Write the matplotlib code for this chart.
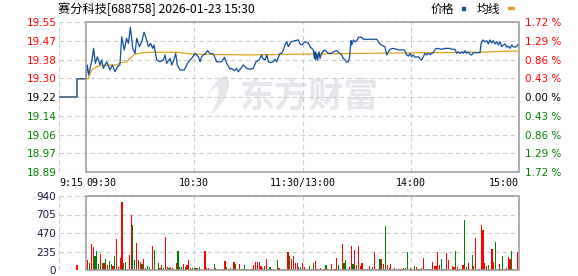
import matplotlib
matplotlib.use("Agg")
import matplotlib.pyplot as plt
from matplotlib.patches import Rectangle, Ellipse
import numpy as np

# ---------------- data ----------------
title = "赛分科技[688758] 2026-01-23 15:30"
prev_close = 19.22
price_ticks = ["18.89", "18.97", "19.06", "19.14", "19.22", "19.30", "19.38", "19.47", "19.55"]
pct_ticks = ["1.72 %", "1.29 %", "0.86 %", "0.43 %", "0.00 %", "0.43 %", "0.86 %", "1.29 %", "1.72 %"]
vol_ticks = [0, 235, 470, 705, 940]
time_ticks = [-15, 0, 60, 120, 180, 240]
time_labels = ["9:15", "09:30", "10:30", "11:30/13:00", "14:00", "15:00"]

# minutes relative to 09:30 (pre-market negative), price
price_t = [-15, -5, -5, 0, 0.7, 1.5, 3.3, 4.2, 5.2, 6.3, 7.8, 8.7, 9.6, 11.5, 13.3, 14.6, 16.1, 17.4,
           18.8, 19.8, 21.2, 22.5, 23.5, 24.6, 25.9, 27.2, 28.1, 29.6, 30.9, 32.2, 33.1, 34.6, 35.8,
           37.0, 37.7, 39.2, 41.0, 42.9, 43.8, 44.7, 46.6, 47.5, 48.4, 49.7, 50.6, 52.1, 54.5, 56.7,
           58.6, 60.4, 62.3, 63.2, 64.1, 65.0, 66.3, 67.4, 68.7, 70.6, 72.4, 75.2, 76.7, 78.0, 79.8,
           80.7, 82.2, 83.5, 84.4, 85.4, 87.2, 89.1, 90.9, 92.7, 94.2, 95.9, 97.4, 97.9, 99.2, 100.2,
           101.1, 102.0, 103.8, 104.8, 105.7, 107.5, 108.4, 109.4, 110.3, 111.3, 112.1, 113.6, 114.9,
           115.9, 117.7, 118.6, 119.6, 120.5, 121.4, 123.2, 124.2, 126.0, 126.6, 126.9, 127.3, 127.9,
           128.4, 129.2, 129.7, 130.6, 132.1, 133.4, 134.3, 136.2, 137.1, 139.0, 140.2, 141.7, 142.6,
           143.6, 144.5, 145.4, 146.0, 146.9, 147.3, 148.2, 149.1, 150.1, 151.0, 152.8, 153.7, 161.1,
           163.0, 164.8, 165.7, 166.7, 167.6, 168.5, 170.3, 172.2, 173.1, 176.4, 177.8, 178.7, 179.6,
           180.5, 181.4, 182.4, 184.2, 185.1, 186.1, 187.0, 187.9, 188.8, 189.7, 190.7, 191.6, 192.5,
           193.5, 194.4, 197.2, 199.0, 201.8, 202.7, 204.5, 205.5, 206.4, 207.3, 208.3, 209.2, 210.1,
           211.0, 211.9, 212.9, 213.8, 214.7, 218.4, 219.0, 219.9, 221.2, 222.1, 223.0, 223.9, 224.9,
           225.8, 226.7, 227.7, 228.6, 229.5, 230.4, 231.4, 232.3, 233.2, 234.1, 235.1, 236.0, 236.9,
           237.8, 238.8, 239.7]
price_v = [19.22, 19.22, 19.30, 19.30, 19.361, 19.317, 19.383, 19.434, 19.368, 19.397, 19.361, 19.383,
           19.346, 19.375, 19.339, 19.361, 19.331, 19.353, 19.361, 19.485, 19.427, 19.478, 19.456,
           19.527, 19.434, 19.412, 19.478, 19.441, 19.463, 19.505, 19.485, 19.441, 19.456, 19.434,
           19.449, 19.383, 19.375, 19.383, 19.405, 19.368, 19.390, 19.361, 19.375, 19.412, 19.361,
           19.339, 19.339, 19.375, 19.390, 19.412, 19.397, 19.375, 19.397, 19.405, 19.412, 19.424,
           19.412, 19.409, 19.375, 19.375, 19.395, 19.368, 19.342, 19.346, 19.336, 19.346, 19.331,
           19.342, 19.361, 19.346, 19.342, 19.346, 19.375, 19.383, 19.405, 19.390, 19.383, 19.405,
           19.375, 19.371, 19.375, 19.386, 19.375, 19.412, 19.412, 19.427, 19.449, 19.463, 19.441,
           19.463, 19.466, 19.468, 19.471, 19.453, 19.449, 19.456, 19.463, 19.458, 19.441, 19.427,
           19.390, 19.419, 19.383, 19.412, 19.383, 19.419, 19.390, 19.412, 19.427, 19.419, 19.412,
           19.412, 19.419, 19.424, 19.415, 19.405, 19.390, 19.383, 19.373, 19.375, 19.390, 19.468,
           19.449, 19.471, 19.463, 19.468, 19.483, 19.483, 19.474, 19.474, 19.453, 19.444, 19.441,
           19.405, 19.419, 19.430, 19.434, 19.430, 19.427, 19.427, 19.405, 19.400, 19.412, 19.397,
           19.405, 19.395, 19.397, 19.390, 19.383, 19.397, 19.412, 19.405, 19.412, 19.407, 19.412,
           19.415, 19.430, 19.434, 19.430, 19.434, 19.434, 19.430, 19.430, 19.412, 19.419, 19.412,
           19.419, 19.412, 19.424, 19.412, 19.419, 19.407, 19.405, 19.415, 19.415, 19.456, 19.471,
           19.463, 19.468, 19.453, 19.471, 19.458, 19.468, 19.453, 19.463, 19.449, 19.463, 19.441,
           19.449, 19.453, 19.439, 19.444, 19.434, 19.449, 19.441, 19.439, 19.444, 19.453]

avg_t = [-15, -5, -5, 0, 1.3, 3.1, 5.9, 8.7, 17.0, 19.2, 22.5, 25.3, 27.2, 31.8, 37.3, 50.3, 55.0,
         62.0, 89.0, 116.0, 151.0, 219.5, 235.0, 240.0]
avg_v = [19.22, 19.22, 19.30, 19.30, 19.30, 19.339, 19.353, 19.359, 19.361, 19.371, 19.375, 19.397,
         19.409, 19.415, 19.417, 19.417, 19.412, 19.408, 19.405, 19.408, 19.412, 19.417, 19.422,
         19.422]

vol_t = [-5, 1, 2, 3, 4, 5, 6, 7, 8, 9, 10, 11, 12, 13, 14, 15, 16, 17, 18, 19, 20, 21, 22, 23, 24,
         25, 26, 27, 28, 29, 30, 31, 32, 33, 34, 35, 37, 38, 40, 41, 42, 43, 44, 45, 46, 47, 48, 50,
         51, 52, 53, 54, 55, 56, 57, 58, 59, 60, 61, 62, 63, 66, 67, 68, 69, 71, 72, 73, 75, 76, 77,
         78, 79, 80, 81, 82, 83, 84, 85, 86, 87, 88, 89, 90, 92, 93, 94, 95, 96, 97, 98, 99, 100,
         101, 102, 103, 104, 106, 107, 108, 109, 110, 112, 113, 114, 115, 116, 117, 118, 119, 120,
         121, 122, 123, 124, 125, 126, 127, 128, 129, 130, 131, 132, 133, 134, 135, 136, 137, 138,
         139, 140, 141, 142, 143, 144, 145, 146, 147, 148, 149, 150, 151, 152, 153, 154, 155, 156,
         157, 158, 159, 160, 161, 162, 163, 164, 165, 166, 167, 168, 169, 170, 171, 172, 173, 174,
         175, 176, 177, 178, 180, 181, 182, 183, 184, 185, 186, 187, 188, 189, 190, 191, 192, 193,
         194, 195, 196, 197, 198, 199, 200, 201, 202, 203, 204, 205, 206, 207, 208, 209, 210, 211,
         212, 213, 214, 215, 216, 217, 218, 219, 220, 221, 222, 223, 224, 225, 226, 227, 228, 229,
         230, 231, 232, 233, 234, 235, 236, 237, 239]
vol_v = [64, 127, 93, 330, 288, 178, 241, 76, 203, 85, 85, 140, 64, 114, 76, 51, 178, 394, 42, 152,
         864, 93, 102, 13, 190, 703, 576, 131, 347, 127, 106, 76, 144, 30, 51, 42, 309, 254, 93, 21,
         64, 21, 419, 42, 25, 42, 21, 93, 241, 42, 42, 76, 42, 64, 127, 30, 30, 30, 21, 21, 42, 241,
         30, 30, 17, 76, 30, 17, 17, 17, 119, 42, 17, 30, 17, 106, 76, 17, 76, 17, 17, 64, 17, 17,
         17, 64, 106, 97, 106, 55, 30, 51, 140, 17, 42, 17, 17, 127, 30, 17, 17, 17, 229, 178, 140,
         178, 89, 89, 42, 42, 89, 42, 17, 17, 51, 17, 89, 114, 17, 17, 30, 17, 17, 64, 17, 17, 76,
         17, 17, 152, 64, 17, 330, 89, 127, 17, 38, 305, 76, 254, 64, 305, 51, 89, 17, 17, 17, 51,
         17, 38, 229, 17, 17, 140, 140, 76, 559, 64, 30, 76, 17, 30, 17, 17, 17, 17, 30, 30, 229,
         30, 17, 51, 38, 17, 17, 30, 152, 17, 17, 17, 17, 102, 51, 51, 229, 64, 140, 17, 17, 216,
         127, 17, 51, 38, 241, 38, 17, 17, 64, 635, 38, 89, 17, 190, 51, 406, 17, 17, 572, 508, 89,
         51, 64, 17, 267, 102, 356, 17, 76, 17, 178, 17, 30, 165, 140, 241, 17, 229]
# r = price up (red), g = price down (green), one letter per bar
vol_dir = ("r"
           "rgrrgggrgr" "grggrgrrrr" "ggrrrggrrr" "grrgg" "rg" "ggrgrrgrr"
           "rgggrgrrrgggrg" "rrrr" "grg" "rrrgrggrgrrgggrr" "rrrrrrgrrggrr" "grrrr" "rg"
           "rrrrggrrrr" "grgrrrrrrg" "rrrrrrgrrg" "grrrgrgrrr" "grgrgrrggg" "rrgrrrrrrr" "rrrgg"
           "rrgrrrgrrg" "ggrrrrrgrr" "rrrrrgrgrr" "grrggrrrrr" "rrrgrrrggr" "rgrgrrgg" "r")

# ---------------- style ----------------
RED, GREEN = "#ff0000", "#008000"
BLUE, ORANGE = "#1050a0", "#e0a020"
GRID = "#cccccc"
FRAME = "#999999"
W, H = 578, 276

fig = plt.figure(figsize=(W / 100, H / 100), dpi=100)
fig.patch.set_facecolor("white")

x0 = 86 - 15 * (519 - 86) / 240.0
def rect(l, t, r, b):
    return [l / W, 1 - b / H, (r - l) / W, (b - t) / H]

# watermark layer (pixel coordinates)
wm = fig.add_axes([0, 0, 1, 1], zorder=0)
wm.set_xlim(0, W)
wm.set_ylim(H, 0)
wm.axis("off")
WMC = "#e6e6ec"
wm.add_patch(Ellipse((217, 95), 40, 15, angle=-62, color=WMC))
wm.add_patch(Ellipse((211, 102), 30, 9, angle=-68, color="white"))
wm.text(309, 96, "东方财富", fontsize=25, fontweight="bold", color=WMC,
        family=["Noto Sans CJK SC"], ha="center", va="center")

lo, hi = float(price_ticks[0]), float(price_ticks[-1])
ax = fig.add_axes(rect(x0, 22, 519, 172), zorder=1)
ax.patch.set_alpha(0)
ax.set_xlim(-15, 240)
ax.set_ylim(lo, hi)
for s in ax.spines.values():
    s.set_visible(False)
yt = np.linspace(lo, hi, len(price_ticks))
for y in yt:
    ax.axhline(y, color=GRID, lw=0.8, ls=(0, (4, 3)), zorder=1)
for t in time_ticks[:-1]:
    if t != 0:
        ax.axvline(t, color=GRID, lw=0.8, ls=(0, (4, 3)), zorder=1)
ax.add_patch(Rectangle((0, lo), 240, hi - lo, fill=False, ec=FRAME, lw=1.1, zorder=5, clip_on=False))

ax.plot(avg_t, avg_v, color=ORANGE, lw=0.9, zorder=3)
ax.plot(price_t, price_v, color=BLUE, lw=0.9, zorder=4)

ax.set_yticks(yt)
ax.set_yticklabels(price_ticks)
ax.tick_params(axis="y", length=0, pad=1.5, labelsize=7.5)
mid = len(price_ticks) // 2
for i, lab in enumerate(ax.get_yticklabels()):
    lab.set_color(RED if i > mid else ("black" if i == mid else GREEN))

ax.set_xticks(time_ticks)
ax.set_xticklabels(time_labels, family="DejaVu Sans Mono", fontsize=7.2)
ax.tick_params(axis="x", length=0, pad=4.5)
has = ["left", "left", "center", "center", "center", "right"]
for lab, h in zip(ax.get_xticklabels(), has):
    lab.set_ha(h)

ax2 = ax.twinx()
ax2.set_ylim(lo, hi)
for s in ax2.spines.values():
    s.set_visible(False)
ax2.set_yticks(yt)
ax2.set_yticklabels(pct_ticks)
ax2.tick_params(axis="y", length=0, pad=4, labelsize=7.5)
for i, lab in enumerate(ax2.get_yticklabels()):
    lab.set_color(RED if i > mid else ("black" if i == mid else GREEN))

# volume
axv = fig.add_axes(rect(x0, 196, 519, 270), zorder=1)
axv.patch.set_alpha(0)
axv.set_xlim(-15, 240)
axv.set_ylim(vol_ticks[0], vol_ticks[-1])
for s in axv.spines.values():
    s.set_visible(False)
for v in vol_ticks:
    axv.axhline(v, color=GRID, lw=0.8, ls=(0, (4, 3)), zorder=1)
for t in time_ticks[:-1]:
    if t != 0:
        axv.axvline(t, color=GRID, lw=0.8, ls=(0, (4, 3)), zorder=1)
axv.add_patch(Rectangle((0, vol_ticks[0]), 240, vol_ticks[-1] - vol_ticks[0], fill=False, ec=FRAME,
                        lw=1.1, zorder=5, clip_on=False))
cols = [RED if c == "r" else GREEN for c in vol_dir]
axv.bar(vol_t, vol_v, width=0.65, color=cols, zorder=3)
axv.set_yticks(vol_ticks)
axv.set_yticklabels([str(v) for v in vol_ticks])
axv.tick_params(axis="y", length=0, pad=2, labelsize=7.5, labelcolor="#1a1a3a")
axv.set_xticks([])

# title and legend
fig.text(58 / W, 1 - 9 / H, title, fontsize=8.8, family=["Noto Sans CJK SC", "DejaVu Sans"],
         ha="left", va="center")
fig.text(431 / W, 1 - 9 / H, "价格", fontsize=8.5, family=["Noto Sans CJK SC"], ha="left", va="center")
fig.text(477 / W, 1 - 9 / H, "均线", fontsize=8.5, family=["Noto Sans CJK SC"], ha="left", va="center")
fig.patches.append(Rectangle((462 / W, 1 - 10 / H), 3 / W, 3 / H, transform=fig.transFigure,
                             color=BLUE, figure=fig))
fig.patches.append(Rectangle((508 / W, 1 - 9 / H), 6 / W, 2 / H, transform=fig.transFigure,
                             color=ORANGE, figure=fig))

fig.savefig("out.png", dpi=100)
